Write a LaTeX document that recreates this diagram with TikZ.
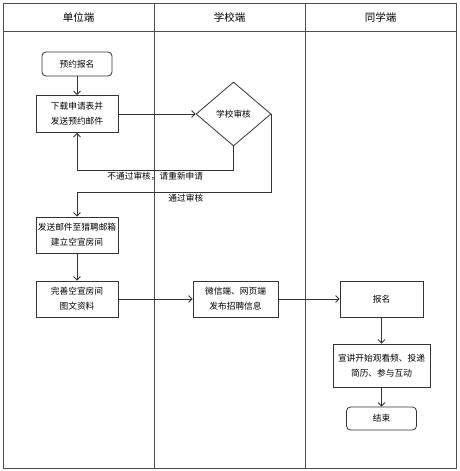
\documentclass[tikz,border=0pt]{standalone}
\usepackage{fontspec}
\setmainfont{Noto Sans CJK SC}
\usetikzlibrary{arrows.meta,shapes.geometric}

\begin{document}
\begin{tikzpicture}[x=1pt, y=-1pt,
    lane/.style={draw=black!70, line width=0.8pt},
    head/.style={font=\fontsize{10.5}{12}\selectfont},
    box/.style={draw=black!80, line width=0.8pt, align=center, inner sep=1pt, font=\fontsize{8.7}{15}\selectfont},
    term/.style={box, rounded corners=4pt},
    check/.style={box, diamond, shape aspect=1, inner sep=0pt, minimum width=75, minimum height=64},
    arr/.style={draw=black!80, line width=0.8pt, -{Straight Barb[length=3.5pt,width=7pt]}},
    lab/.style={font=\fontsize{8.7}{11}\selectfont, inner sep=2pt}]
        \useasboundingbox (0,0) rectangle (460,471);

        % CORSIE
        \draw[lane] (3,3) rectangle (456,468);
        \draw[lane] (3,31) -- (456,31);
        \draw[lane] (154,3) -- (154,468);
        \draw[lane] (305,3) -- (305,468);
        \node[head] (h1) at (78.5,17) {单位端};
        \node[head] (h2) at (229.5,17) {学校端};
        \node[head] (h3) at (380.5,17) {同学端};

        % 单位端
        \node[term, minimum width=70, minimum height=24] (yybm) at (77,64) {预约报名};
        \node[box, minimum width=82, minimum height=37] (xzsq) at (77,114) {下载申请表并\\发送预约邮件};
        \node[box, minimum width=82, minimum height=36] (fsyj) at (77,235) {发送邮件至猎聘邮箱\\建立空宣房间};
        \node[box, minimum width=82, minimum height=36] (wszl) at (77,299) {完善空宣房间\\图文资料};

        % 学校端
        \node[check] (xxsh) at (233.5,114) {学校审核};
        \node[box, minimum width=85, minimum height=36] (fbxx) at (235.5,299) {微信端、网页端\\发布招聘信息};

        % 同学端
        \node[box, minimum width=83, minimum height=36] (bm) at (381.5,299) {报名};
        \node[box, minimum width=97, minimum height=43] (xjks) at (381.5,365.5) {宣讲开始观看频、投递\\简历、参与互动};
        \node[term, minimum width=70, minimum height=23] (js) at (381.5,418.5) {结束};

        \draw[arr] (yybm) -- (xzsq);
        \draw[arr] (xzsq) -- (xxsh);
        \draw[arr] (xxsh.south) -- (xxsh.south |- 0,170) -| node[lab, pos=0.25, below] {不通过审核，请重新申请} (xzsq.south);
        \draw[arr] (xxsh.east) -- (xxsh.east |- 0,192) -| node[lab, pos=0.22, below] {通过审核} (fsyj.north);
        \draw[arr] (fsyj) -- (wszl);
        \draw[arr] (wszl) -- (fbxx);
        \draw[arr] (fbxx) -- (bm);
        \draw[arr] (bm) -- (xjks);
        \draw[arr] (xjks) -- (js);
    \end{tikzpicture}
\end{document}
